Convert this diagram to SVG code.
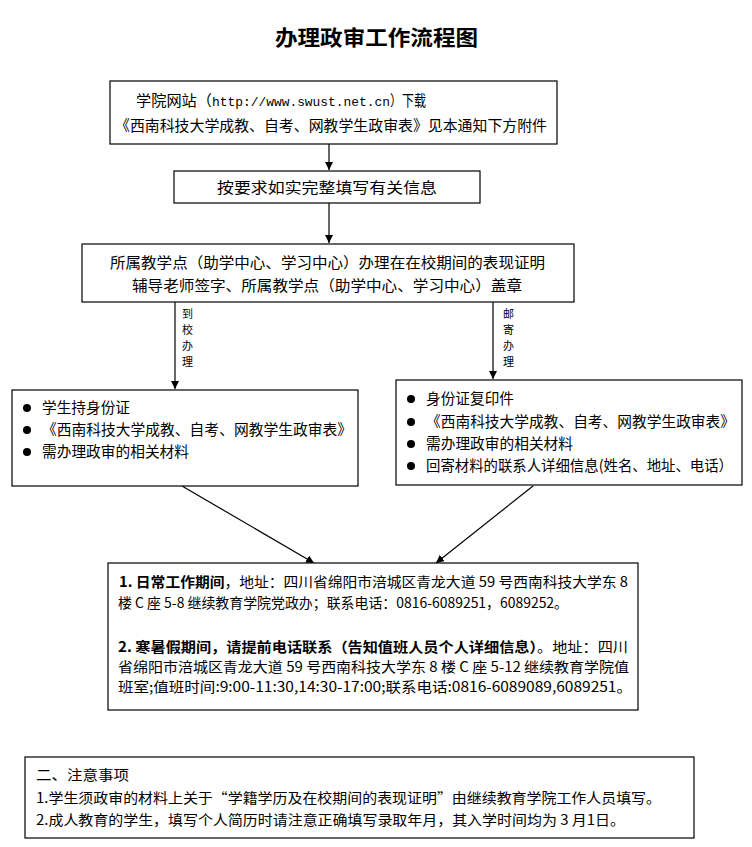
<svg xmlns="http://www.w3.org/2000/svg" width="752" height="847" viewBox="0 0 752 847">
<style>
  .box { fill: #ffffff; stroke: #000000; stroke-width: 1.2; }
  .t { font-family: "Noto Sans CJK SC", "Liberation Sans", sans-serif; font-size: 15px; fill: #000; }
  .s { font-family: "Noto Sans CJK SC", "Liberation Sans", sans-serif; font-size: 14px; fill: #000; }
  .m { font-family: "Liberation Mono", "Noto Sans CJK SC", monospace; font-size: 13px; fill: #000; }
  .b { font-weight: bold; }
  .v { font-family: "Noto Sans CJK SC", sans-serif; font-size: 11px; fill: #000; }
  .title { font-family: "Noto Sans CJK SC", serif; font-size: 21px; font-weight: bold; fill: #000; }
  .conn { stroke: #000; stroke-width: 1.2; fill: none; marker-end: url(#arr); }
</style>
<defs>
  <marker id="arr" viewBox="0 0 10 10" refX="10" refY="5" markerWidth="8" markerHeight="8" markerUnits="userSpaceOnUse" orient="auto">
    <path d="M0,0 L10,5 L0,10 z" fill="#000"/>
  </marker>
</defs>
<rect width="752" height="847" fill="#ffffff"/>

<text id="title" class="title" x="275" y="45" textLength="203" lengthAdjust="spacingAndGlyphs">办理政审工作流程图</text>

<g id="connectors">
  <line class="conn" x1="329" y1="144" x2="329" y2="170"/>
  <line class="conn" x1="329" y1="203" x2="329" y2="243"/>
  <line class="conn" x1="175" y1="302" x2="175" y2="389"/>
  <line class="conn" x1="493" y1="302" x2="493" y2="379"/>
  <line class="conn" x1="182" y1="486" x2="314" y2="563"/>
  <line class="conn" x1="533" y1="486" x2="436" y2="563"/>
  <g id="label-left">
    <text class="v" x="182" y="318">到</text>
    <text class="v" x="182" y="334">校</text>
    <text class="v" x="182" y="350">办</text>
    <text class="v" x="182" y="366">理</text>
  </g>
  <g id="label-right">
    <text class="v" x="503" y="318">邮</text>
    <text class="v" x="503" y="334">寄</text>
    <text class="v" x="503" y="350">办</text>
    <text class="v" x="503" y="366">理</text>
  </g>
</g>

<g id="node-download">
  <rect class="box" x="110" y="81" width="447" height="63"/>
  <text class="t" x="136" y="106" textLength="76" lengthAdjust="spacingAndGlyphs">学院网站（</text>
  <text class="m" x="212" y="106" textLength="178" lengthAdjust="spacingAndGlyphs">http://www.swust.net.cn</text>
  <text class="t" x="390" y="106" textLength="36" lengthAdjust="spacingAndGlyphs">）下载</text>
  <text class="t" x="115" y="131" textLength="432" lengthAdjust="spacingAndGlyphs">《西南科技大学成教、自考、网教学生政审表》见本通知下方附件</text>
</g>

<g id="node-fill">
  <rect class="box" x="174" y="171" width="306" height="32"/>
  <text class="t" x="217" y="193" textLength="220" lengthAdjust="spacingAndGlyphs">按要求如实完整填写有关信息</text>
</g>

<g id="node-proof">
  <rect class="box" x="82" y="244" width="492" height="58"/>
  <text class="t" x="110" y="268" textLength="435" lengthAdjust="spacingAndGlyphs">所属教学点（助学中心、学习中心）办理在在校期间的表现证明</text>
  <text class="t" x="132" y="291" textLength="390" lengthAdjust="spacingAndGlyphs">辅导老师签字、所属教学点（助学中心、学习中心）盖章</text>
</g>

<g id="node-onsite">
  <rect class="box" x="12" y="390" width="346" height="96"/>
  <circle cx="27" cy="408" r="4"/>
  <circle cx="27" cy="430" r="4"/>
  <circle cx="27" cy="452" r="4"/>
  <text class="t" x="42" y="413" textLength="88" lengthAdjust="spacingAndGlyphs">学生持身份证</text>
  <text class="t" x="42" y="435" textLength="310" lengthAdjust="spacingAndGlyphs">《西南科技大学成教、自考、网教学生政审表》</text>
  <text class="t" x="42" y="457" textLength="147" lengthAdjust="spacingAndGlyphs">需办理政审的相关材料</text>
</g>

<g id="node-mail">
  <rect class="box" x="396" y="380" width="346" height="105"/>
  <circle cx="411" cy="399" r="4"/>
  <circle cx="411" cy="422" r="4"/>
  <circle cx="411" cy="444" r="4"/>
  <circle cx="411" cy="466" r="4"/>
  <text class="t" x="426" y="404" textLength="88" lengthAdjust="spacingAndGlyphs">身份证复印件</text>
  <text class="t" x="426" y="427" textLength="309" lengthAdjust="spacingAndGlyphs">《西南科技大学成教、自考、网教学生政审表》</text>
  <text class="t" x="426" y="449" textLength="147" lengthAdjust="spacingAndGlyphs">需办理政审的相关材料</text>
  <text class="t" x="426" y="471" textLength="307" lengthAdjust="spacingAndGlyphs">回寄材料的联系人详细信息(姓名、地址、电话）</text>
</g>

<g id="node-address">
  <rect class="box" x="108" y="563" width="530" height="147"/>
  <text class="s" x="119" y="587" textLength="509" lengthAdjust="spacingAndGlyphs"><tspan class="b">1. 日常工作期间</tspan>，地址：四川省绵阳市涪城区青龙大道 59 号西南科技大学东 8</text>
  <text class="s" x="118" y="608" textLength="450" lengthAdjust="spacingAndGlyphs">楼 C 座 5-8 继续教育学院党政办；联系电话：0816-6089251，6089252。</text>
  <text class="s" x="118" y="652" textLength="510" lengthAdjust="spacingAndGlyphs"><tspan class="b">2. 寒暑假期间，请提前电话联系（告知值班人员个人详细信息）</tspan>。地址：四川</text>
  <text class="s" x="118" y="672" textLength="511" lengthAdjust="spacingAndGlyphs">省绵阳市涪城区青龙大道 59 号西南科技大学东 8 楼 C 座 5-12 继续教育学院值</text>
  <text class="s" x="118" y="692" textLength="514" lengthAdjust="spacingAndGlyphs">班室;值班时间:9:00-11:30,14:30-17:00;联系电话:0816-6089089,6089251。</text>
</g>

<g id="node-notes">
  <rect class="box" x="25" y="757" width="669" height="81"/>
  <text class="s" x="36" y="780" textLength="93" lengthAdjust="spacingAndGlyphs">二、注意事项</text>
  <text class="s" x="36" y="803" textLength="625" lengthAdjust="spacingAndGlyphs">1.学生须政审的材料上关于“学籍学历及在校期间的表现证明”由继续教育学院工作人员填写。</text>
  <text class="s" x="36" y="825" textLength="589" lengthAdjust="spacingAndGlyphs">2.成人教育的学生，填写个人简历时请注意正确填写录取年月，其入学时间均为 3 月1日。</text>
</g>
</svg>
